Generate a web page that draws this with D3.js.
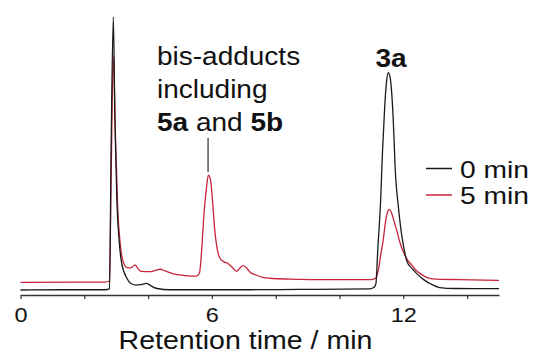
<!DOCTYPE html>
<html>
<head>
<meta charset="utf-8">
<script src="https://cdn.jsdelivr.net/npm/d3@7"></script>
<style>
  body { margin: 0; background: #fff; }
  svg { display: block; font-family: "Liberation Sans", Arial, sans-serif; }
</style>
</head>
<body>
<svg id="chart" width="534" height="354"></svg>
<script>
// retention time (min) and detector signal (% of the largest peak)
const time0 = [0, 1.24, 2.65, 2.79, 2.84, 2.91, 2.96, 3.02, 3.09, 3.17, 3.33, 3.46, 3.64, 3.78, 3.95, 4.12, 4.28, 4.68, 7.19, 8.76, 10.95, 11.07, 11.14, 11.2, 11.29, 11.35, 11.42, 11.48, 11.53, 11.59, 11.67, 11.76, 11.84, 11.95, 12.03, 12.11, 12.27, 12.42, 12.64, 12.86, 13.14, 13.61, 15];
const signal0 = [0, 0.1, 0.1, 0.4, 51.3, 100, 62.3, 33, 18.3, 9.9, 4.4, 2.4, 1.8, 2.0, 2.4, 1.3, 0.55, 0.1, 0.1, 0.2, 0.4, 0.9, 2.2, 14.7, 33, 51.3, 67.8, 76.9, 79.6, 77.7, 65.9, 41.4, 31.1, 20.1, 14.7, 10.6, 7.9, 6.0, 3.8, 2.2, 0.9, 0.55, 0.5];

const time5 = [0, 2.65, 2.79, 2.84, 2.91, 2.98, 3.05, 3.13, 3.22, 3.34, 3.46, 3.59, 3.68, 3.78, 4.06, 4.25, 4.37, 4.53, 4.79, 5.15, 5.52, 5.61, 5.68, 5.75, 5.83, 5.89, 5.95, 6.03, 6.09, 6.16, 6.25, 6.38, 6.5, 6.63, 6.77, 6.88, 6.98, 7.1, 7.19, 7.38, 7.6, 7.82, 8.44, 9.7, 11.01, 11.14, 11.23, 11.29, 11.37, 11.45, 11.52, 11.56, 11.62, 11.7, 11.79, 11.89, 12.0, 12.11, 12.26, 12.39, 12.52, 12.73, 12.99, 13.77, 15];
const signal5 = [2.8, 2.9, 3.3, 40.3, 85.7, 54.9, 29.3, 16.5, 10.3, 8.2, 8.1, 9.2, 7.9, 6.8, 6.7, 7.3, 7.6, 7.0, 5.9, 5.3, 5.1, 6.2, 14.7, 27.5, 37.4, 42.1, 40.7, 31.1, 22, 15.4, 11.7, 10.3, 9.7, 8.4, 6.8, 8.1, 8.9, 7.9, 6.6, 5.5, 4.6, 4.3, 4.0, 3.8, 3.8, 4.4, 8.1, 12.8, 18.3, 25.6, 28.9, 29.5, 28.6, 25.6, 22, 17.6, 14.0, 11.4, 9.2, 7.3, 6.1, 4.65, 4.0, 3.8, 3.55];

const tickValues = [0, 2, 4, 6, 8, 10, 12, 14];
const tickLabels = [0, 6, 12];
const seriesNames = ['0 min', '5 min'];
const seriesColors = ['#1a1a1a', '#c8243a'];

const svg = d3.select('#chart');
const stretch = 'scale(1.12,1)';

const x = d3.scaleLinear().domain([0, 15]).range([20.5, 499]);
const y = d3.scaleLinear().domain([0, 100]).range([290, 17]);

const line = d3.line()
  .x(d => x(d[0]))
  .y(d => y(d[1]))
  .curve(d3.curveMonotoneX);

// axis
const axis = svg.append('g')
  .attr('transform', 'translate(0,295)')
  .call(d3.axisBottom(x)
    .tickValues(tickValues)
    .tickSize(4)
    .tickSizeOuter(0)
    .tickFormat(d => tickLabels.includes(d) ? d : ''));

axis.select('.domain').attr('stroke', '#333').attr('stroke-width', 1.3);
axis.selectAll('.tick line').attr('stroke', '#333').attr('stroke-width', 1.2);
axis.selectAll('.tick text')
  .attr('fill', '#111')
  .attr('font-size', 21)
  .attr('y', 27.5)
  .attr('dy', 0)
  .attr('transform', stretch);

svg.append('text')
  .attr('transform', `translate(245.5,348.5) ${stretch}`)
  .attr('text-anchor', 'middle')
  .attr('font-size', 25.5)
  .attr('fill', '#111')
  .text('Retention time / min');

// traces, 5 min first so the 0 min trace sits on top
const traces = [
  { t: time5, s: signal5, color: seriesColors[1] },
  { t: time0, s: signal0, color: seriesColors[0] }
];
traces.forEach(tr => {
  svg.append('path')
    .datum(tr.t.map((t, i) => [t, tr.s[i]]))
    .attr('fill', 'none')
    .attr('stroke', tr.color)
    .attr('stroke-width', 1.3)
    .attr('stroke-linejoin', 'round')
    .attr('d', line);
});

// legend
seriesNames.forEach((name, i) => {
  const ly = 168.5 + i * 26.5;
  svg.append('line')
    .attr('x1', 426).attr('x2', 452)
    .attr('y1', ly).attr('y2', ly)
    .attr('stroke', seriesColors[i])
    .attr('stroke-width', 1.5);
  svg.append('text')
    .attr('transform', `translate(460,${ly + 9}) scale(1.2,1)`)
    .attr('font-size', 23.5)
    .attr('fill', '#111')
    .text(name);
});

// annotations
const note = svg.append('text')
  .attr('transform', `translate(157,0) ${stretch}`)
  .attr('font-size', 25)
  .attr('fill', '#111');
note.append('tspan').attr('x', 0).attr('y', 65.5).text('bis-adducts');
note.append('tspan').attr('x', 0).attr('y', 98.5).text('including');
const l3 = note.append('tspan').attr('x', 0).attr('y', 131);
l3.append('tspan').attr('font-weight', 'bold').text('5a');
l3.append('tspan').text(' and ');
l3.append('tspan').attr('font-weight', 'bold').text('5b');

svg.append('line')
  .attr('x1', x(5.88)).attr('x2', x(5.88))
  .attr('y1', 138).attr('y2', 172)
  .attr('stroke', '#555')
  .attr('stroke-width', 1.5);

svg.append('text')
  .attr('transform', `translate(391,67) ${stretch}`)
  .attr('text-anchor', 'middle')
  .attr('font-size', 25)
  .attr('font-weight', 'bold')
  .attr('fill', '#111')
  .text('3a');
</script>
</body>
</html>
